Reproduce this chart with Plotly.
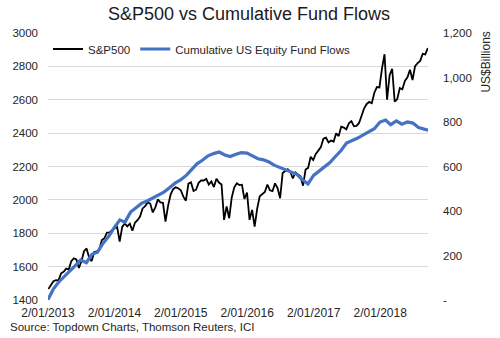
import pandas as pd
import plotly.graph_objects as go

# S&P 500 closes, every two weeks from 4 Jan 2013 to 21 Sep 2018
sp500 = [
    # 2013
    1466, 1486, 1513, 1519, 1518, 1560, 1569, 1588, 1582, 1633, 1650, 1643, 1592,
    1632, 1692, 1709, 1655, 1633, 1688, 1691, 1703, 1759, 1770, 1804, 1805, 1818,
    # 2014
    1831, 1838, 1750, 1838, 1859, 1841, 1857, 1815, 1863, 1878, 1900, 1949, 1963,
    1985, 1978, 1925, 1955, 2003, 1985, 1982, 1870, 1964, 2032, 2064, 2075, 2070,
    # 2015
    2058, 2019, 1995, 2097, 2105, 2053, 2061, 2102, 2117, 2116, 2126, 2092, 2110,
    2077, 2127, 2104, 2092, 1880, 1961, 1890, 2014, 2075, 2099, 2089, 2091, 2005,
    # 2016
    2044, 1880, 1940, 1840, 1948, 2022, 2035, 2047, 2092, 2057, 2052, 2099, 2071,
    2010, 2161, 2173, 2184, 2169, 2128, 2164, 2153, 2141, 2085, 2182, 2192, 2258, 2239,
    # 2017
    2275, 2295, 2316, 2367, 2373, 2344, 2356, 2349, 2399, 2382, 2439, 2433, 2423,
    2459, 2472, 2441, 2443, 2461, 2502, 2549, 2575, 2587, 2579, 2642, 2676, 2674,
    # 2018
    2786, 2873, 2600, 2747, 2786, 2588, 2604, 2670, 2663, 2713, 2735, 2780, 2718,
    2801, 2819, 2833, 2875, 2872, 2910,
]
sp500_dates = pd.date_range("2013-01-04", periods=len(sp500), freq="14D")

# Cumulative US equity fund flows, US$ billions, monthly from Jan 2013
fund_flows = [
    0, 50, 80, 105, 125, 155, 180, 168, 205, 215, 255, 285,
    325, 360, 350, 395, 415, 435, 445, 458, 470, 485, 505, 525,
    540, 560, 585, 612, 628, 648, 658, 665, 652, 645, 655, 662,
    660, 648, 635, 630, 620, 605, 595, 582, 575, 565, 540, 522,
    560, 580, 600, 618, 645, 672, 705, 715, 728, 742, 758, 770,
    800, 809, 788, 805, 790, 800, 795, 775, 768, 762,
]
flow_dates = pd.date_range("2013-01-01", periods=len(fund_flows), freq="MS")

year_ticks = ["2013-01-02", "2014-01-02", "2015-01-02", "2016-01-02", "2017-01-02", "2018-01-02"]
year_labels = ["2/01/2013", "2/01/2014", "2/01/2015", "2/01/2016", "2/01/2017", "2/01/2018"]
left_ticks = [1400, 1600, 1800, 2000, 2200, 2400, 2600, 2800, 3000]
right_ticks = [0, 200, 400, 600, 800, 1000, 1200]
right_labels = ["-", "200", "400", "600", "800", "1,000", "1,200"]

FONT = "Liberation Sans, Arial, sans-serif"
TEXT = "#262626"

fig = go.Figure()
fig.add_trace(go.Scatter(
    x=sp500_dates, y=sp500, name="S&P500", mode="lines",
    line=dict(color="#000000", width=1.8),
))
fig.add_trace(go.Scatter(
    x=flow_dates, y=fund_flows, name="Cumulative US Equity Fund Flows", mode="lines",
    line=dict(color="#4472C4", width=3.2), yaxis="y2",
))

fig.update_layout(
    width=500, height=338,
    margin=dict(l=45, r=72, t=33, b=38),
    paper_bgcolor="white", plot_bgcolor="white",
    font=dict(family=FONT, color=TEXT),
    title=dict(
        text="S&P500 vs Cumulative Fund Flows",
        font=dict(size=18, color="#1a1a1a"),
        x=0.498, xref="container", xanchor="center",
        y=1 - 14 / 338, yref="container", yanchor="middle",
    ),
    showlegend=True,
    legend=dict(
        orientation="h", x=0.0, xanchor="left", y=0.94, yanchor="middle",
        bgcolor="rgba(0,0,0,0)", font=dict(size=11.5, color=TEXT),
        itemwidth=30, tracegroupgap=0,
    ),
    xaxis=dict(
        type="date", range=["2013-01-02", "2018-09-22"],
        tickvals=year_ticks, ticktext=year_labels,
        showgrid=False, zeroline=False, showline=False, ticks="",
        tickfont=dict(size=12, color=TEXT), ticklabelstandoff=4,
    ),
    yaxis=dict(
        range=[1400, 3000], tickvals=left_ticks,
        showgrid=True, gridcolor="#d9d9d9", gridwidth=1,
        zeroline=False, showline=False, ticks="",
        tickfont=dict(size=11.5, color=TEXT), ticklabelstandoff=9,
    ),
    yaxis2=dict(
        range=[0, 1200], tickvals=right_ticks, ticktext=right_labels,
        overlaying="y", side="right", showgrid=False,
        zeroline=False, showline=False, ticks="",
        tickfont=dict(size=11.5, color=TEXT), ticklabelstandoff=14,
    ),
    annotations=[
        dict(
            text="US$Billions", textangle=-90, showarrow=False,
            xref="paper", yref="paper", x=(486 - 45) / 383, y=(300 - 62) / 267,
            xanchor="center", yanchor="middle",
            font=dict(size=12, color=TEXT),
        ),
        dict(
            text="Source: Topdown Charts, Thomson Reuters, ICI", showarrow=False,
            xref="paper", yref="paper", x=(5 - 45) / 383, y=(300 - 327) / 267,
            xanchor="left", yanchor="middle",
            font=dict(size=11.5, color=TEXT),
        ),
    ],
)

fig.write_html("out.html")
